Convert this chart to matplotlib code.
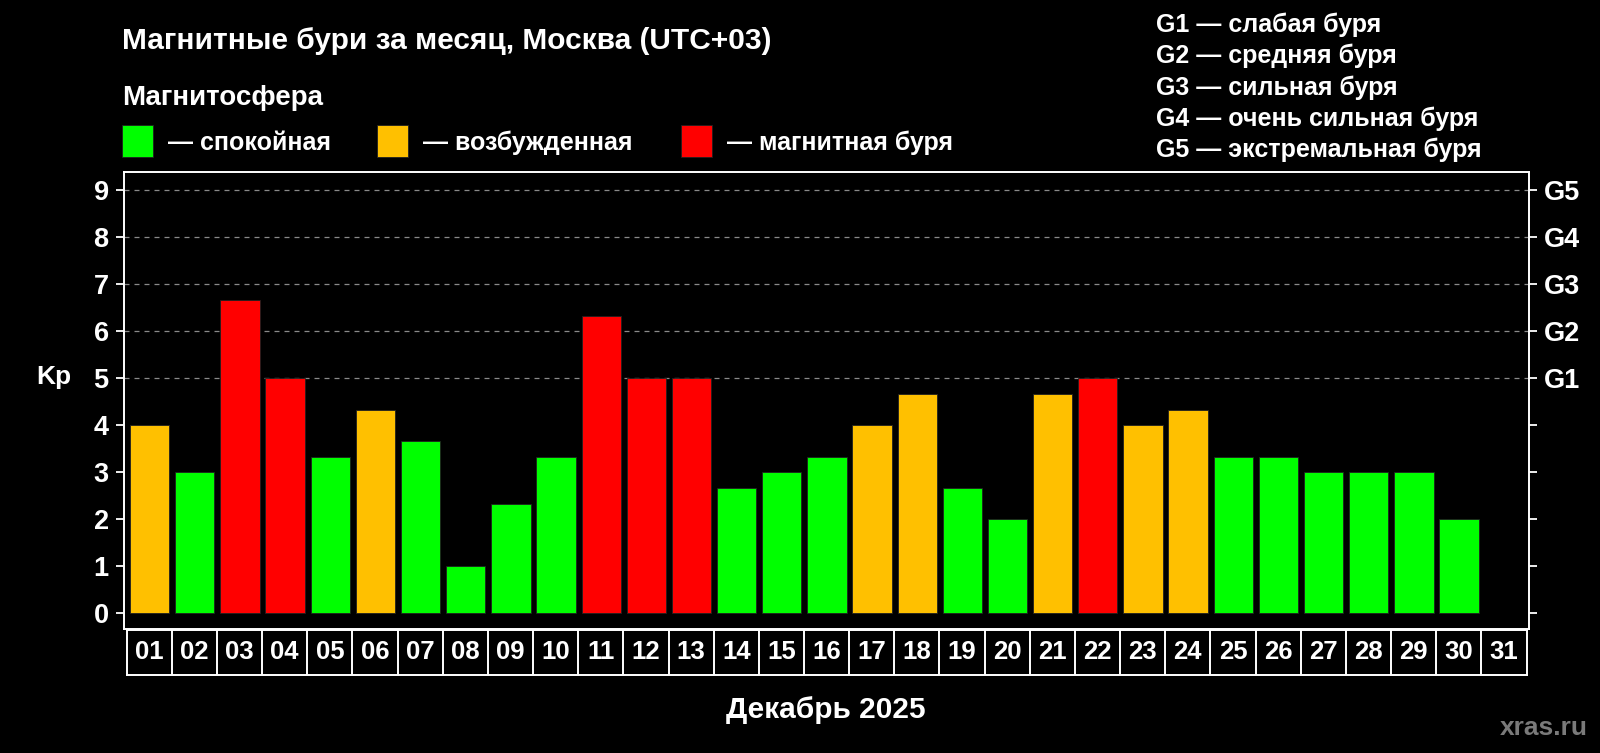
import matplotlib
matplotlib.use("Agg")
import matplotlib.pyplot as plt
from matplotlib.patches import Rectangle

# ---------------- data ----------------
days = ["01", "02", "03", "04", "05", "06", "07", "08", "09", "10",
        "11", "12", "13", "14", "15", "16", "17", "18", "19", "20",
        "21", "22", "23", "24", "25", "26", "27", "28", "29", "30", "31"]
kp = [4.0, 3.0, 6.67, 5.0, 3.33, 4.33, 3.67, 1.0, 2.33, 3.33,
      6.33, 5.0, 5.0, 2.67, 3.0, 3.33, 4.0, 4.67, 2.67, 2.0,
      4.67, 5.0, 4.0, 4.33, 3.33, 3.33, 3.0, 3.0, 3.0, 2.0]
y_ticks = [0, 1, 2, 3, 4, 5, 6, 7, 8, 9]
g_ticks = [5, 6, 7, 8, 9]
g_labels = ["G1", "G2", "G3", "G4", "G5"]
grid_levels = [5, 6, 7, 8, 9]
state_labels = ["— спокойная", "— возбужденная", "— магнитная буря"]
state_colors = ["#00FF00", "#FFC000", "#FF0000"]
g_legend = ["G1 — слабая буря", "G2 — средняя буря", "G3 — сильная буря",
            "G4 — очень сильная буря", "G5 — экстремальная буря"]
title = "Магнитные бури за месяц, Москва (UTC+03)"
subtitle = "Магнитосфера"
xlabel = "Декабрь 2025"
ylabel = "Kp"
watermark = "xras.ru"


def state_color(v):
    if v >= 5:
        return state_colors[2]
    if v >= 4:
        return state_colors[1]
    return state_colors[0]


W, H = 1600, 753
plt.rcParams["font.family"] = ["Liberation Sans", "DejaVu Sans"]
plt.rcParams["font.weight"] = "bold"
fig = plt.figure(figsize=(W / 100, H / 100), dpi=100, facecolor="black")


def fx(px):
    return px / W


def fy(py):
    return 1 - py / H


# main axes
ax = fig.add_axes([fx(124), fy(628.5), fx(1529) - fx(124), fy(171.5) - fy(628.5)])
ax.set_facecolor("black")
xs = list(range(1, len(kp) + 1))
ax.bar(xs, kp, width=0.87, color=[state_color(v) for v in kp],
       edgecolor="#202020", linewidth=0.6, zorder=3)
ax.set_xlim(0.431, 31.55)
ax.set_ylim(-0.33, 9.4)
for g in grid_levels:
    ax.axhline(g, color="#8a8a8a", lw=0.9, ls=(0, (4, 4)), zorder=1)
for s in ax.spines.values():
    s.set_color("white")
    s.set_linewidth(1.4)
ax.set_xticks([])
ax.set_yticks(y_ticks)
ax.set_yticklabels([str(t) for t in y_ticks])
ax.tick_params(axis="y", colors="white", labelsize=19.5, length=6, width=1.3,
               direction="out", pad=5, right=True)

ax2 = ax.twinx()
ax2.set_ylim(ax.get_ylim())
ax2.set_yticks(y_ticks)
ax2.set_yticklabels([g_labels[g_ticks.index(t)] if t in g_ticks else "" for t in y_ticks])
ax2.tick_params(axis="y", colors="white", labelsize=19.5, length=6, width=1.3,
                direction="out", pad=5)
for s in ax2.spines.values():
    s.set_visible(False)

# day table
tax = fig.add_axes([fx(126.7), fy(674.5), fx(1526.5) - fx(126.7), fy(630) - fy(674.5)])
tax.set_facecolor("black")
tax.set_xlim(0.5, len(days) + 0.5)
tax.set_ylim(0, 1)
tax.set_xticks([])
tax.set_yticks([])
for s in tax.spines.values():
    s.set_color("white")
    s.set_linewidth(1.4)
for i, d in enumerate(days):
    x = i + 1
    if i > 0:
        tax.axvline(x - 0.5, color="white", lw=1.4)
    tax.text(x, 0.5, d, color="white", fontsize=18.5, fontweight="bold",
             ha="center", va="center")

# texts
fig.text(fx(122), fy(41), title, color="white", fontsize=21.5, fontweight="bold",
         ha="left", va="center")
fig.text(fx(122), fy(98), subtitle, color="white", fontsize=20, fontweight="bold",
         ha="left", va="center")
sq_x = [122, 377, 681]
for x0, lab, c in zip(sq_x, state_labels, state_colors):
    fig.patches.append(Rectangle((fx(x0), fy(157)), fx(31), fy(125) - fy(157),
                                 transform=fig.transFigure, facecolor=c,
                                 edgecolor="#202020", lw=0.6))
    fig.text(fx(x0 + 46), fy(143), lab, color="white", fontsize=18,
             fontweight="bold", ha="left", va="center")
for i, t in enumerate(g_legend):
    fig.text(fx(1156), fy(24.5 + i * 31.4), t, color="white", fontsize=18,
             fontweight="bold", ha="left", va="center")
fig.text(fx(54), fy(377), ylabel, color="white", fontsize=19, fontweight="bold",
         ha="center", va="center")
fig.text(fx(826), fy(710), xlabel, color="white", fontsize=21.5, fontweight="bold",
         ha="center", va="center")
fig.text(fx(1588), fy(728), watermark, color="#7a7a7a", fontsize=19,
         fontweight="bold", ha="right", va="center")

fig.savefig("out.png", dpi=100, facecolor="black")
